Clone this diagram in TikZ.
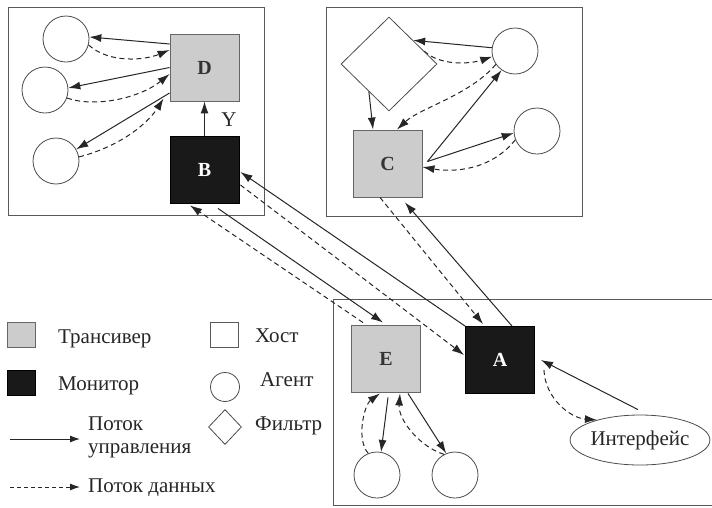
\documentclass[tikz,border=0pt]{standalone}
\usepackage{fontspec}
\setmainfont{Liberation Serif}
\usetikzlibrary{arrows.meta,shapes.geometric}
\begin{document}
\begin{tikzpicture}[x=1pt,y=-1pt,
  host/.style={draw=black!65,line width=0.9pt},
  lbl/.style={font=\fontsize{20}{20}\bfseries\selectfont},
  trans/.style={rectangle,draw=black!60,fill=black!20,line width=0.9pt,minimum width=69pt,minimum height=67pt,inner sep=0pt,lbl,text=black!80},
  mon/.style={rectangle,draw=black,fill=black!90,line width=0.9pt,minimum width=69pt,minimum height=67pt,inner sep=0pt,lbl,text=white},
  agent/.style={circle,draw=black!70,line width=0.8pt,minimum size=46pt,inner sep=0pt},
  filt/.style={diamond,draw=black!70,line width=0.8pt,minimum width=96pt,minimum height=94pt,inner sep=0pt},
  txt/.style={font=\fontsize{21}{23}\selectfont,text=black!85,inner sep=0pt},
  ctl/.style={draw=black!85,line width=1pt,-{Latex[length=12pt,width=8pt]}},
  dat/.style={ctl,dash pattern=on 5pt off 3.5pt},
]
\useasboundingbox (0,0) rectangle (712,507);
% hosts
\draw[host] (8,7) rectangle (264,215);
\draw[host] (326,7) rectangle (582,216);
\draw[host] (716,299) -- (333,299) -- (333,505) -- (716,505);

% host 1
\node[trans] (D) at (204.5,67.5) {D};
\node[mon] (B) at (204.5,169.5) {B};
\node[agent] (c1) at (66,39) {};
\node[agent] (c2) at (45,90) {};
\node[agent] (c3) at (56,161) {};
\draw[ctl] ([yshift=23.5pt]D.west) -- (c1.5);
\draw[dat] (c1.-15) .. controls (110,64) and (145,60) .. ([yshift=17.5pt]D.west);
\draw[ctl] (D.west) -- (c2.5);
\draw[dat] (c2.-20) .. controls (95,108) and (140,98) .. ([yshift=-6.5pt]D.west);
\draw[ctl] ([yshift=-25.5pt]D.west) -- (c3.30);
\draw[dat] (c3.10) .. controls (125,145) and (150,120) .. ([yshift=-31pt,xshift=-6pt]D.west);
\draw[ctl] (B.north) -- (D.south);
\node[txt] (Y) at (229,120) {Y};

% host 2
\node[filt] (F) at (389,64) {};
\node[agent] (a1) at (515,51) {};
\node[agent] (a2) at (537,131) {};
\node[trans] (C) at (387.5,163.5) {C};
\draw[ctl] (a1.172) -- (F.north east);
\draw[dat] (F.20) .. controls (440,66) and (470,64) .. (a1.-166);
\draw[ctl] (F.-126) -- ([xshift=-14.5pt]C.north);
\draw[dat] (a1.-145) .. controls (470,95) and (420,108) .. ([xshift=9.5pt]C.north);
\draw[ctl] ([xshift=5pt,yshift=2pt]C.east) -- (a1.-125);
\draw[ctl] ([xshift=5pt,yshift=2pt]C.east) -- (a2.185);
\draw[dat] (a2.-158) .. controls (490,172) and (450,172) .. ([yshift=-3.5pt]C.east);

% host 3
\node[trans] (E) at (386,358.5) {E};
\node[mon] (A) at (500,360) {A};
\node[agent] (e1) at (377,475) {};
\node[agent] (e2) at (455,475) {};
\node[ellipse,draw=black!70,line width=0.8pt,minimum width=120pt,minimum height=50pt,inner sep=0pt,txt] (I) at (640,440) {Интерфейс};
\draw[ctl] ([xshift=2pt,yshift=-5pt]E.south) -- (e1.80);
\draw[dat] (e1.112) .. controls (356,440) and (364,405) .. ([xshift=-6pt,yshift=-1pt]E.south);
\draw[ctl] ([xshift=22pt,yshift=-1pt]E.south) -- (e2.112);
\draw[dat] (e2.118) .. controls (420,447) and (398,420) .. ([xshift=14pt,yshift=-1pt]E.south);
\draw[ctl] ([xshift=-2pt,yshift=5pt]I.north) -- ([xshift=6pt]A.east);
\draw[dat] ([xshift=9pt,yshift=-10pt]A.east) .. controls (545,398) and (570,418) .. (I.155);

% long links
\draw[ctl] ([xshift=12pt]A.north) -- ([xshift=17.5pt,yshift=-5pt]C.south);
\draw[dat] ([xshift=-7.5pt]C.south) -- ([xshift=-17pt,yshift=2pt]A.north);
\draw[ctl] (A.north west) -- ([yshift=-2.5pt,xshift=1pt]B.east);
\draw[dat] ([yshift=-15.5pt,xshift=1pt]B.east) -- ([yshift=5pt,xshift=-1pt]A.west);
\draw[ctl] ([xshift=13.5pt,yshift=-5pt]B.south) -- ([xshift=-3pt,yshift=2pt]E.north);
\draw[dat] ([xshift=-23pt,yshift=2pt]E.north) -- ([xshift=-14.5pt,yshift=-2pt]B.south);

% legend
\node[rectangle,draw=black!60,fill=black!20,line width=0.9pt,minimum width=28pt,minimum height=25pt,inner sep=0pt] (lt) at (21,334.5) {};
\node[txt,anchor=west] (ltt) at (58,339) {Трансивер};
\node[rectangle,draw=black,fill=black!90,minimum width=28pt,minimum height=25pt,inner sep=0pt] (lm) at (21,382.5) {};
\node[txt,anchor=west] (lmt) at (58,386) {Монитор};
\coordinate (lc1) at (10,439);
\coordinate (lc2) at (80,439);
\draw[ctl,-{Latex[length=10pt,width=7pt]}] (lc1) -- (lc2);
\node[txt,anchor=west,align=left] (lct) at (88,437) {Поток\\управления};
\coordinate (ld1) at (10,487);
\coordinate (ld2) at (80,487);
\draw[dat,dash pattern=on 4pt off 3pt,-{Latex[length=10pt,width=7pt]}] (ld1) -- (ld2);
\node[txt,anchor=west] (ldt) at (88,488) {Поток данных};
\node[rectangle,draw=black!65,line width=0.9pt,minimum width=28pt,minimum height=25pt,inner sep=0pt] (lh) at (224,334.5) {};
\node[txt,anchor=west] (lht) at (255,336) {Хост};
\node[circle,draw=black!70,line width=0.8pt,minimum size=29pt,inner sep=0pt] (la) at (225,387) {};
\node[txt,anchor=west] (lat) at (260,380) {Агент};
\node[diamond,draw=black!70,line width=0.8pt,minimum width=33pt,minimum height=35pt,inner sep=0pt] (lf) at (225,427) {};
\node[txt,anchor=west] (lft) at (255,426) {Фильтр};
\end{tikzpicture}
\end{document}
